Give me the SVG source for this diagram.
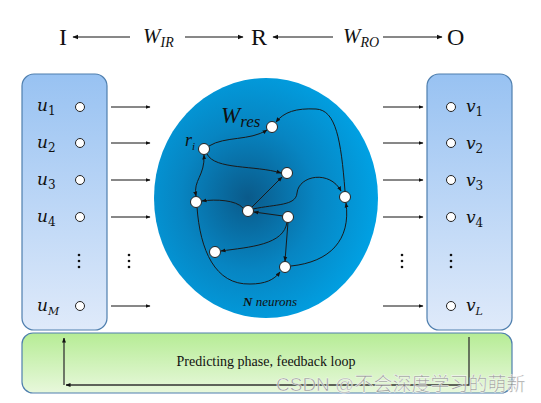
<svg xmlns="http://www.w3.org/2000/svg" width="541" height="403" viewBox="0 0 541 403">
<defs>
<linearGradient id="gBlue" x1="0" y1="0" x2="0" y2="1">
<stop offset="0" stop-color="#98c2f2"/>
<stop offset="1" stop-color="#dfeafa"/>
</linearGradient>
<linearGradient id="gGreen" x1="0" y1="0" x2="0" y2="1">
<stop offset="0" stop-color="#b6ec95"/>
<stop offset="1" stop-color="#e8f8dc"/>
</linearGradient>
<radialGradient id="gRes" cx="0.42" cy="0.5" r="0.6">
<stop offset="0" stop-color="#0a5a8a"/>
<stop offset="0.5" stop-color="#0785c2"/>
<stop offset="1" stop-color="#00a3e6"/>
</radialGradient>
<marker id="ah" viewBox="0 0 10 10" refX="9" refY="5" markerWidth="6" markerHeight="6" orient="auto-start-reverse" markerUnits="userSpaceOnUse">
<path d="M0,1 L10,5 L0,9 z" fill="#111"/>
</marker>
<marker id="ahs" viewBox="0 0 10 10" refX="9" refY="5" markerWidth="5" markerHeight="5" orient="auto-start-reverse" markerUnits="userSpaceOnUse">
<path d="M0,1 L10,5 L0,9 z" fill="#111"/>
</marker>
</defs>
<style>
.top{font-family:"Liberation Serif",serif;font-size:24px;fill:#111}
.var{font-family:"Liberation Serif",serif;font-style:italic;fill:#111}
.io-l{font-family:"DejaVu Serif",serif;font-style:italic;font-size:17px;fill:#111}
.sub{font-style:normal;font-size:12px}
.subi{font-size:11px}
.ln{stroke:#111;stroke-width:1;fill:none}
.edge{stroke:#1a1a1a;stroke-width:1;fill:none}
.io{fill:#fff;stroke:#222;stroke-width:1}
.neu{fill:#fff;stroke:#222;stroke-width:1}
.dot{fill:#111}
.panel{stroke:#4f7fae;stroke-width:1.2}
.fb{stroke:#333;stroke-width:1.3;fill:none}
</style>
<rect width="541" height="403" fill="#fff"/>

<g id="header">
<text class="top" x="59" y="45">I</text>
<line class="ln" x1="73" y1="37" x2="130" y2="37" marker-start="url(#ah)"/>
<text class="var" x="143" y="43" font-size="21">W<tspan font-size="14" dy="4">IR</tspan></text>
<line class="ln" x1="185" y1="37" x2="243" y2="37" marker-end="url(#ah)"/>
<text class="top" x="251" y="45">R</text>
<line class="ln" x1="273" y1="37" x2="333" y2="37" marker-start="url(#ah)"/>
<text class="var" x="343" y="43" font-size="21">W<tspan font-size="14" dy="4">RO</tspan></text>
<line class="ln" x1="383" y1="37" x2="442" y2="37" marker-end="url(#ah)"/>
<text class="top" x="447" y="45">O</text>
</g>

<g id="feedback">
<rect class="panel" x="22" y="333" width="490" height="60" rx="11" fill="url(#gGreen)"/>
<text x="266" y="366" text-anchor="middle" font-family="Liberation Serif,serif" font-size="14" fill="#111">Predicting phase, feedback loop</text>
<polyline class="fb" points="469,337 469,385 66,385" marker-end="url(#ahs)"/>
<line class="fb" x1="64" y1="385" x2="64" y2="338" marker-end="url(#ahs)"/>
</g>

<g id="input">
<rect class="panel" x="22" y="74" width="85" height="256" rx="12" fill="url(#gBlue)"/>
<text class="io-l" x="37" y="111">u<tspan class="sub" dy="4">1</tspan></text>
<text class="io-l" x="37" y="148">u<tspan class="sub" dy="4">2</tspan></text>
<text class="io-l" x="37" y="185">u<tspan class="sub" dy="4">3</tspan></text>
<text class="io-l" x="37" y="222">u<tspan class="sub" dy="4">4</tspan></text>
<text class="io-l" x="37" y="311">u<tspan class="subi" dy="4">M</tspan></text>
<circle class="io" cx="80" cy="107" r="4.5"/>
<circle class="io" cx="80" cy="143" r="4.5"/>
<circle class="io" cx="80" cy="180" r="4.5"/>
<circle class="io" cx="80" cy="217" r="4.5"/>
<circle class="io" cx="80" cy="306" r="4.5"/>
<circle class="dot" cx="79" cy="255" r="1.3"/><circle class="dot" cx="79" cy="261" r="1.3"/><circle class="dot" cx="79" cy="267" r="1.3"/>
</g>

<g id="output">
<rect class="panel" x="427" y="74" width="85" height="256" rx="12" fill="url(#gBlue)"/>
<circle class="io" cx="451" cy="107" r="4.5"/>
<circle class="io" cx="451" cy="143" r="4.5"/>
<circle class="io" cx="451" cy="180" r="4.5"/>
<circle class="io" cx="451" cy="217" r="4.5"/>
<circle class="io" cx="451" cy="306" r="4.5"/>
<text class="io-l" x="466" y="112">v<tspan class="sub" dy="4">1</tspan></text>
<text class="io-l" x="466" y="149">v<tspan class="sub" dy="4">2</tspan></text>
<text class="io-l" x="466" y="186">v<tspan class="sub" dy="4">3</tspan></text>
<text class="io-l" x="466" y="223">v<tspan class="sub" dy="4">4</tspan></text>
<text class="io-l" x="466" y="311">v<tspan class="subi" dy="4">L</tspan></text>
<circle class="dot" cx="451" cy="255" r="1.3"/><circle class="dot" cx="451" cy="261" r="1.3"/><circle class="dot" cx="451" cy="267" r="1.3"/>
</g>

<g id="reservoir">
<ellipse cx="266" cy="198" rx="112" ry="120" fill="url(#gRes)"/>
<text class="var" x="221" y="123" font-size="23" fill="#1a1a1a">W<tspan font-size="17" dy="4">res</tspan></text>
<text class="var" x="185" y="146" font-size="18">r<tspan font-size="11" dy="4">i</tspan></text>
<text class="var" x="243" y="306" font-size="13"><tspan font-weight="bold">N</tspan> neurons</text>
</g>

<g id="connectors">
<line class="ln" x1="111" y1="107" x2="150" y2="107" marker-end="url(#ahs)"/>
<line class="ln" x1="111" y1="143" x2="150" y2="143" marker-end="url(#ahs)"/>
<line class="ln" x1="111" y1="180" x2="150" y2="180" marker-end="url(#ahs)"/>
<line class="ln" x1="111" y1="217" x2="150" y2="217" marker-end="url(#ahs)"/>
<line class="ln" x1="111" y1="306" x2="150" y2="306" marker-end="url(#ahs)"/>
<line class="ln" x1="383" y1="107" x2="423" y2="107" marker-end="url(#ahs)"/>
<line class="ln" x1="383" y1="143" x2="423" y2="143" marker-end="url(#ahs)"/>
<line class="ln" x1="383" y1="180" x2="423" y2="180" marker-end="url(#ahs)"/>
<line class="ln" x1="383" y1="217" x2="423" y2="217" marker-end="url(#ahs)"/>
<line class="ln" x1="383" y1="306" x2="423" y2="306" marker-end="url(#ahs)"/>
<circle class="dot" cx="129" cy="255" r="1.3"/><circle class="dot" cx="129" cy="261" r="1.3"/><circle class="dot" cx="129" cy="267" r="1.3"/>
<circle class="dot" cx="402" cy="255" r="1.3"/><circle class="dot" cx="402" cy="261" r="1.3"/><circle class="dot" cx="402" cy="267" r="1.3"/>

<path class="edge" d="M209,146 C225,136 250,141 267,130" marker-end="url(#ahs)"/>
<path class="edge" d="M207,154 C215,170 255,165 281,173" marker-end="url(#ahs)"/>
<path class="edge" d="M345,191 C341,140 336,110 316,109 C296,108 284,112 276,122" marker-end="url(#ahs)"/>
<line class="edge" x1="252" y1="207" x2="282" y2="177" marker-end="url(#ahs)"/>
<path class="edge" d="M243,208 C236,200 216,199 202,201" marker-end="url(#ahs)"/>
<path class="edge" d="M196,196 C193,180 205,176 204,155" marker-start="url(#ahs)" marker-end="url(#ahs)"/>
<path class="edge" d="M253,209 C276,204 296,206 297,193 C299,175 330,170 341,191" marker-end="url(#ahs)"/>
<line class="edge" x1="283" y1="216" x2="254" y2="212" marker-end="url(#ahs)"/>
<path class="edge" d="M287,222 C284,245 250,247 221,251" marker-end="url(#ahs)"/>
<line class="edge" x1="288" y1="222" x2="285" y2="261" marker-end="url(#ahs)"/>
<path class="edge" d="M197,207 C200,250 215,285 250,284 C265,284 274,280 280,272" marker-end="url(#ahs)"/>
<path class="edge" d="M291,266 C330,262 351,240 346,203" marker-end="url(#ahs)"/>
</g>

<g id="neurons">
<circle class="neu" cx="204" cy="149" r="5.5"/>
<circle class="neu" cx="272" cy="127" r="5.5"/>
<circle class="neu" cx="287" cy="173" r="5.5"/>
<circle class="neu" cx="345" cy="197" r="5.5"/>
<circle class="neu" cx="196" cy="202" r="5.5"/>
<circle class="neu" cx="248" cy="211" r="5.5"/>
<circle class="neu" cx="288" cy="217" r="5.5"/>
<circle class="neu" cx="215" cy="252" r="5.5"/>
<circle class="neu" cx="285" cy="267" r="5.5"/>
</g>

<g id="watermark">
<text x="276" y="391" font-family="Liberation Sans,Noto Sans CJK SC,sans-serif" font-size="19" fill="#888" fill-opacity="0.8" stroke="#fff" stroke-width="0.6" stroke-opacity="0.8">CSDN @不会深度学习的萌新</text>
</g>
</svg>
